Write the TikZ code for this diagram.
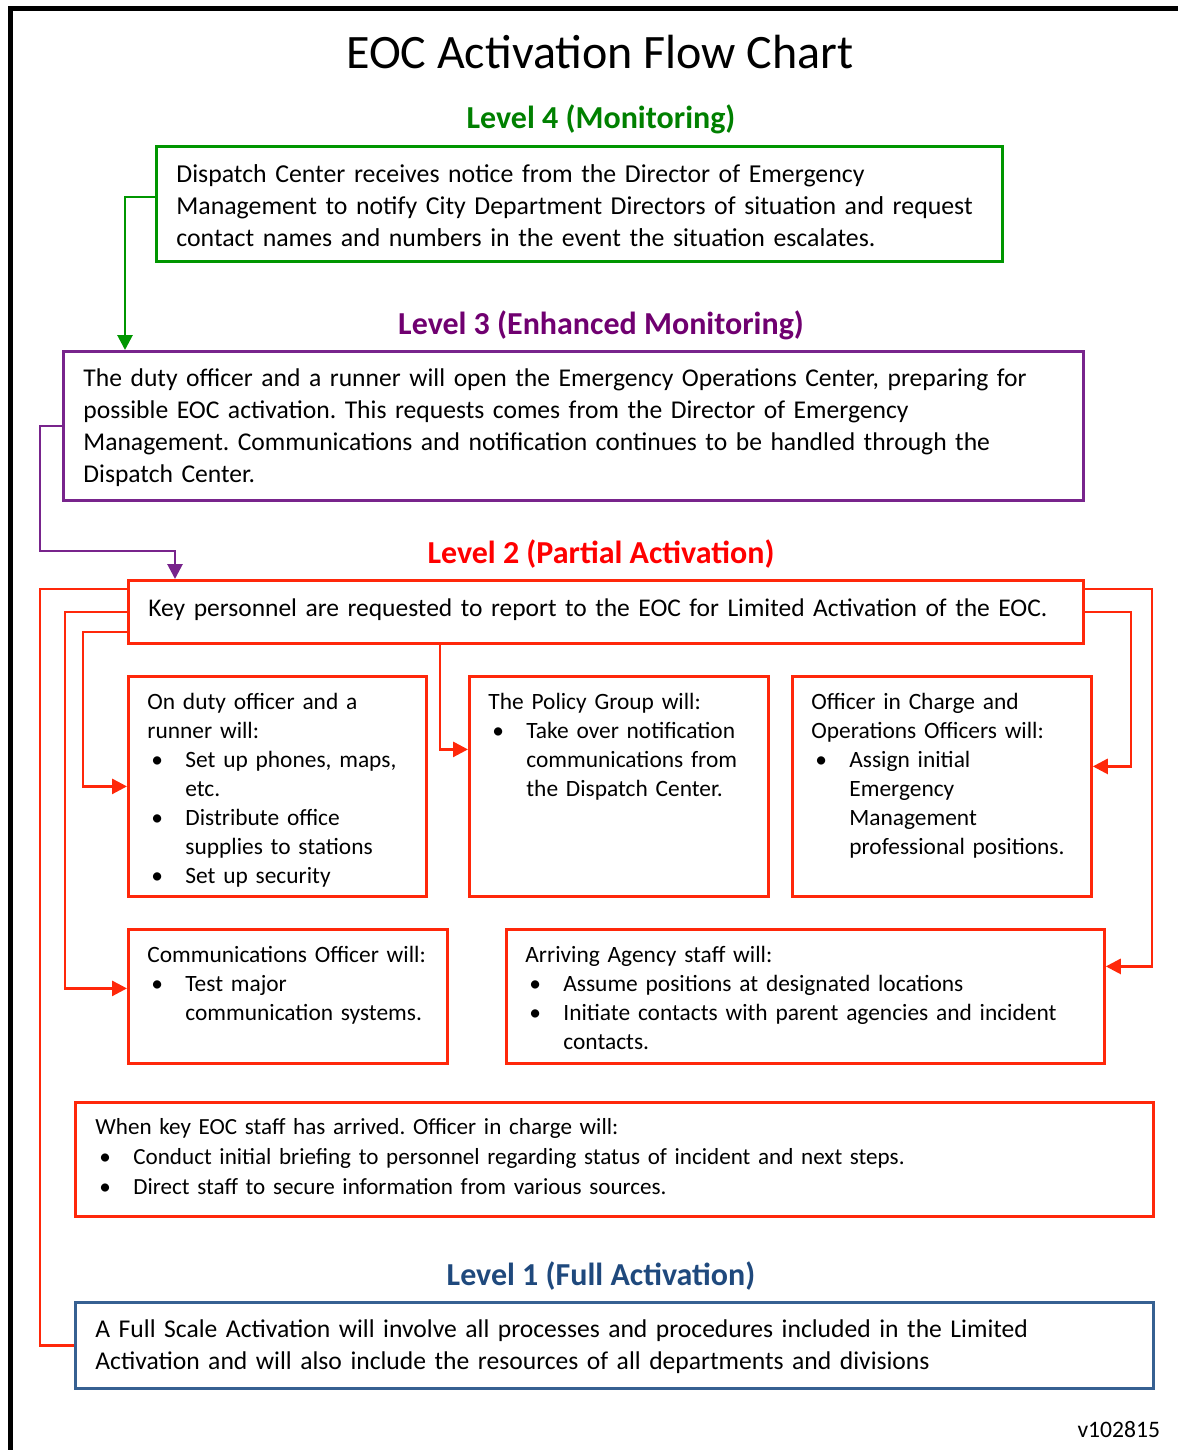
\documentclass[tikz,border=0pt]{standalone}
\usepackage{fontspec}
\setmainfont{Carlito}
\usepackage{xcolor}
\usepackage{tikz}
\usetikzlibrary{arrows.meta, positioning}
\definecolor{lvlfour}{RGB}{0,128,0}
\definecolor{lvlfourline}{RGB}{0,150,0}
\definecolor{lvlthree}{RGB}{112,0,112}
\definecolor{lvlthreeline}{RGB}{120,36,140}
\definecolor{lvltwo}{RGB}{255,0,0}
\definecolor{lvltwoline}{RGB}{255,40,10}
\definecolor{lvlone}{RGB}{31,73,125}
\definecolor{lvloneline}{RGB}{54,96,146}
\newcommand{\bigtxt}{\fontsize{12.8}{16}\selectfont}
\newcommand{\smalltxt}{\fontsize{11.7}{14.5}\selectfont}
\newcommand{\bitem}{\makebox[19pt][l]{\hspace{2pt}\textbullet}}
\newcommand{\bcont}{\hspace*{19pt}}
\frenchspacing

\begin{document}
\begin{tikzpicture}[
  x=0.5pt, y=-0.5pt,
  box/.style={rectangle, draw, line width=1.4pt, anchor=north west,
              align=left, inner xsep=10pt, inner ysep=0pt},
  link/.style={line width=1.4pt, -{Triangle[length=7.5pt, width=7.5pt]}},
  lvl/.style={font=\fontsize{16}{19}\selectfont\bfseries}
]
\useasboundingbox (0,0) rectangle (1178,1450);
% page frame
\draw[line width=2.5pt] (10,1450) -- (10,9) -- (1178,9);

\node[font=\fontsize{24}{28}\selectfont] (title) at (600,52) {EOC Activation Flow Chart};

% level 4
\node[lvl, text=lvlfour] (hfour) at (601,119.5) {Level 4 (Monitoring)};
\node[box, draw=lvlfourline, font=\fontsize{12.9}{16}\selectfont, text width=403pt,
      text height=18pt, text depth=39.5pt] (lfour) at (155,145)
  {Dispatch Center receives notice from the Director of Emergency\\
   Management to notify City Department Directors of situation and request\\
   contact names and numbers in the event the situation escalates.};

% level 3
\node[lvl, text=lvlthree] (hthree) at (601,325.5) {Level 3 (Enhanced Monitoring)};
\node[box, draw=lvlthreeline, font=\bigtxt, text width=490pt,
      text height=17.5pt, text depth=57pt] (lthree) at (62,350)
  {The duty officer and a runner will open the Emergency Operations Center, preparing for\\
   possible EOC activation. This requests comes from the Director of Emergency\\
   Management. Communications and notification continues to be handled through the\\
   Dispatch Center.};

% level 2
\node[lvl, text=lvltwo] (htwo) at (601,554.5) {Level 2 (Partial Activation)};
\node[box, draw=lvltwoline, font=\fontsize{12.75}{16}\selectfont, text width=457.5pt,
      text height=18pt, text depth=13.5pt] (key) at (127,579)
  {Key personnel are requested to report to the EOC for Limited Activation of the EOC.};

\node[box, draw=lvltwoline, font=\smalltxt, inner xsep=9.5pt, text width=130pt,
      text height=16.5pt, text depth=93.5pt] (onduty) at (127,675)
  {On duty officer and a\\
   runner will:\\
   \bitem Set up phones, maps,\\
   \bcont etc.\\
   \bitem Distribute office\\
   \bcont supplies to stations\\
   \bitem Set up security};
\node[box, draw=lvltwoline, font=\smalltxt, inner xsep=9.5pt, text width=130.5pt,
      text height=16.5pt, text depth=93.5pt] (policy) at (468,675)
  {The Policy Group will:\\
   \bitem Take over notification\\
   \bcont communications from\\
   \bcont the Dispatch Center.};
\node[box, draw=lvltwoline, font=\smalltxt, inner xsep=9.5pt, text width=130.5pt,
      text height=16.5pt, text depth=93.5pt] (officer) at (791,675)
  {Officer in Charge and\\
   Operations Officers will:\\
   \bitem Assign initial\\
   \bcont Emergency\\
   \bcont Management\\
   \bcont professional positions.};

\node[box, draw=lvltwoline, font=\smalltxt, inner xsep=9.5pt, text width=140.5pt,
      text height=16.5pt, text depth=50.5pt] (comms) at (127,928)
  {Communications Officer will:\\
   \bitem Test major\\
   \bcont communication systems.};
\node[box, draw=lvltwoline, font=\smalltxt, inner xsep=9.5pt, text width=280pt,
      text height=16.5pt, text depth=50.5pt] (arriving) at (505,928)
  {Arriving Agency staff will:\\
   \bitem Assume positions at designated locations\\
   \bitem Initiate contacts with parent agencies and incident\\
   \bcont contacts.};

\node[box, draw=lvltwoline, font=\fontsize{11.55}{15}\selectfont, text width=519pt,
      text height=16pt, text depth=41pt] (when) at (74,1101)
  {When key EOC staff has arrived. Officer in charge will:\\
   \bitem Conduct initial briefing to personnel regarding status of incident and next steps.\\
   \bitem Direct staff to secure information from various sources.};

% level 1
\node[lvl, text=lvlone] (hone) at (601,1276.5) {Level 1 (Full Activation)};
\node[box, draw=lvloneline, font=\bigtxt, text width=519pt,
      text height=17.5pt, text depth=25.5pt] (lone) at (74,1301)
  {A Full Scale Activation will involve all processes and procedures included in the Limited\\
   Activation and will also include the resources of all departments and divisions};

\node[anchor=east, font=\fontsize{11.8}{14}\selectfont] (ver) at (1167,1430) {v102815};

% connectors
\coordinate (gbend) at (125,197);
\draw[link, lvlfourline] (lfour.west |- gbend) -- (gbend) -- (gbend |- lthree.north);

\coordinate (pbend) at (40,551);
\coordinate (pdrop) at (175,551);
\draw[link, lvlthreeline] (lthree.west) -| (pbend) -- (pdrop) -- (pdrop |- key.north);

\coordinate (rone) at (40,0);
\coordinate (rtwo) at (65,0);
\coordinate (rthree) at (83,0);
\coordinate (rmid) at (440,0);
\coordinate (rfour) at (1152,0);
\coordinate (rfive) at (1131,0);
\coordinate (commsin) at ([yshift=4pt]comms.west);
\coordinate (policyin) at ([yshift=18.5pt]policy.west);
\coordinate (arrivein) at ([yshift=15pt]arriving.east);
\coordinate (officerin) at ([yshift=10pt]officer.east);

\draw[line width=1.4pt, lvltwoline] ([yshift=-5pt]key.north west) -| (rone |- lone.west) -- (lone.west);
\draw[link, lvltwoline] (key.west) -| (rtwo |- commsin) -- (commsin);
\draw[link, lvltwoline] ([yshift=-10pt]key.west) -| (rthree |- onduty.west) -- (onduty.west);
\draw[link, lvltwoline] (key.south -| rmid) |- (policyin);
\draw[link, lvltwoline] ([yshift=-5pt]key.north east) -| (rfour |- arrivein) -- (arrivein);
\draw[link, lvltwoline] (key.east) -| (rfive |- officerin) -- (officerin);
\end{tikzpicture}
\end{document}
